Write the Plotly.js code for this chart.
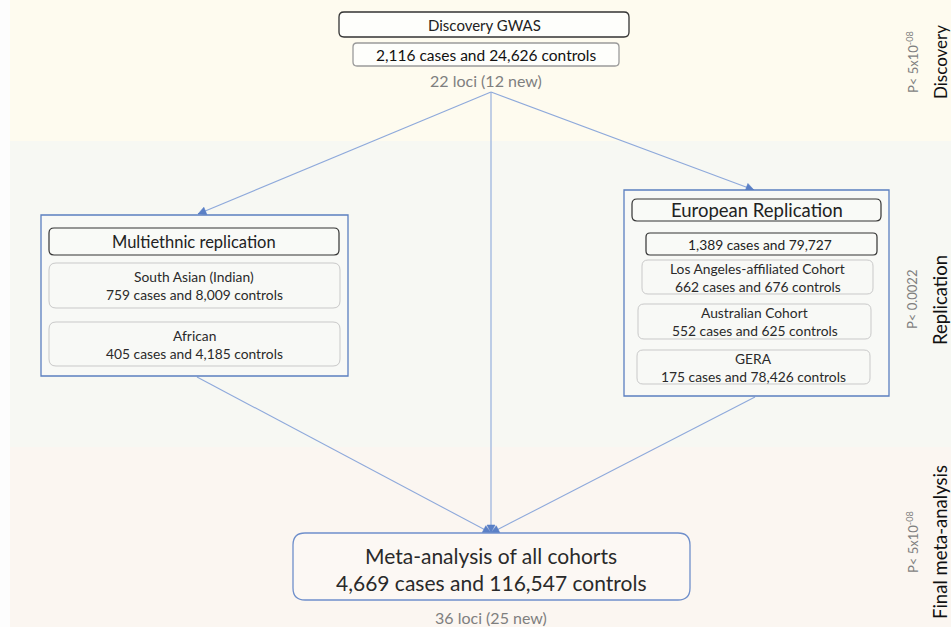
<!DOCTYPE html>
<html>
<head>
<meta charset="utf-8">
<script src="https://cdn.plot.ly/plotly-3.0.1.min.js"></script>
<style>html,body{margin:0;padding:0;background:#fdfdfd;}#chart{width:951px;height:627px;}</style>
</head>
<body>
<div id="chart"></div>
<script>
// ---- content (text data) ----
const stageLabels = ['Discovery', 'Replication', 'Final meta-analysis'];
const stageThresholds = ['P< 5x10<sup>-08</sup>', 'P< 0.0022', 'P< 5x10<sup>-08</sup>'];
const discoveryTitle = 'Discovery GWAS';
const discoverySamples = '2,116 cases and 24,626 controls';
const discoveryLoci = '22 loci (12 new)';
const multiTitle = 'Multiethnic replication';
const multiCohorts = ['South Asian (Indian)', 'African'];
const multiSamples = ['759 cases and 8,009 controls', '405 cases and 4,185 controls'];
const euroTitle = 'European Replication';
const euroTotal = '1,389 cases and 79,727';
const euroCohorts = ['Los Angeles-affiliated Cohort', 'Australian Cohort', 'GERA'];
const euroSamples = ['662 cases and 676 controls', '552 cases and 625 controls', '175 cases and 78,426 controls'];
const metaTitle = 'Meta-analysis of all cohorts';
const metaSamples = '4,669 cases and 116,547 controls';
const metaLoci = '36 loci (25 new)';

// ---- layout geometry (pixel-like data coords) ----
const FONT = 'Lato, "Open Sans", sans-serif';
const shapes = [];
const annotations = [];

function rrect(x0, y0, x1, y1, r) {
  return `M${x0 + r},${y0} L${x1 - r},${y0} Q${x1},${y0} ${x1},${y0 + r} L${x1},${y1 - r} Q${x1},${y1} ${x1 - r},${y1} L${x0 + r},${y1} Q${x0},${y1} ${x0},${y1 - r} L${x0},${y0 + r} Q${x0},${y0} ${x0 + r},${y0} Z`;
}
function box(x0, y0, x1, y1, r, line, lw, fill) {
  shapes.push({type: 'path', xref: 'x', yref: 'y', path: rrect(x0, y0, x1, y1, r),
    line: {color: line, width: lw}, fillcolor: fill});
}
function rect(x0, y0, x1, y1, line, lw, fill) {
  shapes.push({type: 'rect', xref: 'x', yref: 'y', x0, y0, x1, y1,
    line: {color: line, width: lw}, fillcolor: fill});
}
function txt(x, y, text, size, color, angle) {
  annotations.push({xref: 'x', yref: 'y', x, y, text, showarrow: false,
    font: {family: FONT, size, color}, xanchor: 'center', yanchor: 'middle', textangle: angle || 0});
}
function arrow(x0, y0, x1, y1) {
  shapes.push({type: 'line', xref: 'x', yref: 'y', x0, y0, x1, y1, line: {color: '#8ea9db', width: 1.1}});
  const len = Math.hypot(x1 - x0, y1 - y0);
  const ux = (x1 - x0) / len, uy = (y1 - y0) / len;
  const hl = 8, hw = 4;
  const bx = x1 - ux * hl, by = y1 - uy * hl;
  const p1 = [bx - uy * hw, by + ux * hw], p2 = [bx + uy * hw, by - ux * hw];
  shapes.push({type: 'path', xref: 'x', yref: 'y',
    path: `M${x1},${y1} L${p1[0]},${p1[1]} L${p2[0]},${p2[1]} Z`,
    line: {color: '#4f78c4', width: 0.5}, fillcolor: '#5b80c6'});
}

// background bands
rect(10, 0, 951, 141, 'rgba(0,0,0,0)', 0, '#fefbef');
rect(10, 141, 951, 447, 'rgba(0,0,0,0)', 0, '#f7f8f3');
rect(10, 447, 951, 627, 'rgba(0,0,0,0)', 0, '#fbf6f1');

// arrows
const apex = [491, 92];
arrow(apex[0], apex[1], 198, 214);
arrow(apex[0], apex[1], 754, 190);
arrow(apex[0], apex[1], 491, 533);
arrow(197, 377, 491, 533);
arrow(755, 397, 491, 533);

// discovery
box(339, 12, 629, 37, 5, '#333333', 1.3, '#fefefb');
txt(484, 25, discoveryTitle, 15, '#222');
box(353, 43, 619, 66, 4, '#9a9a9a', 1.3, '#fefefb');
txt(486, 55, discoverySamples, 15.5, '#111');
txt(486, 80, discoveryLoci, 16, '#7f7f7f');

// multiethnic
rect(41, 215, 348, 376, '#5b7fc0', 1.3, '#f8f9f6');
box(49, 228, 339, 255, 5, '#333333', 1.2, '#f9faf7');
txt(194, 242, multiTitle, 16.5, '#222');
const multiY = [[263, 308], [322, 366]];
multiCohorts.forEach((c, i) => {
  box(49, multiY[i][0], 340, multiY[i][1], 7, '#c9c9c9', 1, '#f8f9f6');
  const m = (multiY[i][0] + multiY[i][1]) / 2;
  txt(194, m - 9, c, 13.8, '#2a2a2a');
  txt(194, m + 9, multiSamples[i], 13.8, '#2a2a2a');
});

// european
rect(624, 190, 889, 396, '#5b7fc0', 1.3, '#f8f9f6');
box(632, 199, 881, 221, 5, '#333333', 1.2, '#f9faf7');
txt(757, 210, euroTitle, 18.5, '#222');
box(646, 233, 877, 255, 4, '#333333', 1.2, '#f9faf7');
txt(760, 244, euroTotal, 13.8, '#222');
const euroBoxes = [[642, 260, 873, 294], [638, 304, 871, 339], [637, 350, 870, 384]];
euroCohorts.forEach((c, i) => {
  const b = euroBoxes[i];
  box(b[0], b[1], b[2], b[3], 6, '#c9c9c9', 1, '#f8f9f6');
  const cx = (b[0] + b[2]) / 2, m = (b[1] + b[3]) / 2;
  txt(cx, m - 9, c, 13.8, '#2a2a2a');
  txt(cx, m + 9, euroSamples[i], 13.8, '#2a2a2a');
});

// meta
box(293, 533, 690, 600, 12, '#6f8fcb', 1.3, '#fcf8f4');
txt(491, 555, metaTitle, 21, '#2a2a2a');
txt(491, 582, metaSamples, 21, '#2a2a2a');
txt(491, 617, metaLoci, 16, '#7f7f7f');

// right-side stage labels
const stageY = [62, 300, 542];
stageLabels.forEach((s, i) => {
  txt(912, stageY[i], stageThresholds[i], 13, '#7f7f7f', -90);
  txt(940, stageY[i], s, i === 0 ? 17 : 18.5, '#111', -90);
});

const layout = {
  width: 951, height: 627,
  margin: {l: 0, r: 0, t: 0, b: 0, pad: 0},
  paper_bgcolor: '#fdfdfd', plot_bgcolor: 'rgba(0,0,0,0)',
  showlegend: false,
  xaxis: {range: [0, 951], visible: false, fixedrange: true},
  yaxis: {range: [627, 0], visible: false, fixedrange: true},
  shapes, annotations
};
Plotly.newPlot('chart', [{x: [], y: [], type: 'scatter', mode: 'markers', hoverinfo: 'skip'}], layout,
  {staticPlot: true, displayModeBar: false, responsive: false});
</script>
</body>
</html>
